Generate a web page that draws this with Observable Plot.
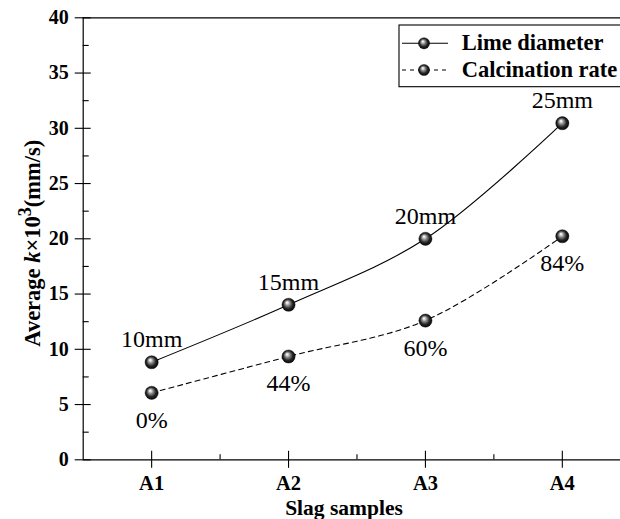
<!DOCTYPE html>
<html>
<head>
<meta charset="utf-8">
<script src="https://cdn.jsdelivr.net/npm/d3@7"></script>
<script src="https://cdn.jsdelivr.net/npm/@observablehq/plot@0.6"></script>
<style>
  html, body { margin: 0; padding: 0; background: #fff; }
  #chart { width: 620px; height: 519px; overflow: hidden; }
</style>
</head>
<body>
<div id="chart"></div>
<script>
// ---- data ----
const samples = ["A1", "A2", "A3", "A4"];
const limeValues = [8.83, 14.03, 20.0, 30.46];
const calcValues = [6.06, 9.35, 12.6, 20.23];
const limeLabels = ["10mm", "15mm", "20mm", "25mm"];
const calcLabels = ["0%", "44%", "60%", "84%"];
const seriesNames = ["Lime diameter", "Calcination rate"];
const yTicks = [0, 5, 10, 15, 20, 25, 30, 35, 40];
const yMinorTicks = [2.5, 7.5, 12.5, 17.5, 22.5, 27.5, 32.5, 37.5];
const xTicks = [1, 2, 3, 4];
const xMinorTicks = [1.5, 2.5, 3.5];

const rows = samples.map((s, i) => ({
  pos: i + 1,
  sample: s,
  lime: limeValues[i],
  calc: calcValues[i],
  limeLabel: limeLabels[i],
  calcLabel: calcLabels[i]
}));

const FONT = "'Liberation Serif', 'Times New Roman', Times, serif";
const SPHERE = "url(#sphere)";

const svg = Plot.plot({
  width: 620,
  height: 519,
  marginLeft: 82.7,
  marginRight: 0,
  marginTop: 17.3,
  marginBottom: 59.7,
  style: { fontFamily: FONT, background: "#fff", color: "#000", overflow: "visible" },
  x: { type: "linear", domain: [0.5, 4.425] },
  y: { domain: [0, 40] },
  marks: [
    // frame lines
    Plot.ruleY([0, 40], { stroke: "#000", strokeWidth: 1.2 }),
    Plot.ruleX([0.5], { stroke: "#000", strokeWidth: 1.2 }),
    // y ticks (crossing) and minor ticks (inside)
    Plot.axisY({ ticks: yTicks, tickSize: 16, dx: 8, fill: "none", label: null, strokeWidth: 1.1 }),
    Plot.axisY({ ticks: yMinorTicks, tickSize: 6, dx: 6, fill: "none", label: null, strokeWidth: 1.1 }),
    Plot.axisY({ ticks: yTicks, tickSize: 0, tickPadding: 14.4, fontSize: 20, fontWeight: "bold", label: null }),
    // x ticks
    Plot.axisX({ ticks: xTicks, tickSize: 17, dy: -8.5, fill: "none", label: null, strokeWidth: 1.1 }),
    Plot.axisX({ ticks: xMinorTicks, tickSize: 5, dy: -5, fill: "none", label: null, strokeWidth: 1.1 }),
    Plot.axisX({ ticks: xTicks, tickSize: 0, tickPadding: 15.5, tickFormat: d => samples[d - 1],
                 fontSize: 20.5, fontWeight: "bold", label: null }),
    // series lines
    Plot.line(rows, { x: "pos", y: "lime", curve: "catmull-rom", stroke: "#000", strokeWidth: 1.1 }),
    Plot.line(rows, { x: "pos", y: "calc", curve: "catmull-rom", stroke: "#000", strokeWidth: 1.1,
                      strokeDasharray: "5,4" }),
    // markers
    Plot.dot(rows, { x: "pos", y: "lime", r: 6.6, fill: SPHERE, stroke: "#000", strokeWidth: 0.4 }),
    Plot.dot(rows, { x: "pos", y: "calc", r: 6.6, fill: SPHERE, stroke: "#000", strokeWidth: 0.4 }),
    // point labels
    Plot.text(rows, { x: "pos", y: "lime", text: "limeLabel", lineAnchor: "bottom", dy: -15,
                      fontSize: 24, fill: "#000" }),
    Plot.text(rows, { x: "pos", y: "calc", text: "calcLabel", lineAnchor: "bottom", dy: 35,
                      fontSize: 24, fill: "#000" })
  ]
});

const s = d3.select(svg);
// sphere gradient
const defs = s.insert("defs", ":first-child");
const grad = defs.append("radialGradient").attr("id", "sphere")
  .attr("cx", "0.5").attr("cy", "0.5").attr("r", "0.55")
  .attr("fx", "0.38").attr("fy", "0.32");
[[0, "#ffffff"], [0.12, "#e6e6e6"], [0.35, "#8a8a8a"], [0.65, "#262626"], [1, "#000000"]]
  .forEach(([o, c]) => grad.append("stop").attr("offset", o).attr("stop-color", c));

// axis titles
s.append("text")
  .attr("x", 344).attr("y", 514.5)
  .attr("text-anchor", "middle")
  .attr("font-family", FONT).attr("font-size", 21.5).attr("font-weight", "bold")
  .text("Slag samples");

const yt = s.append("text")
  .attr("transform", "translate(40,346.7) rotate(-90)")
  .attr("text-anchor", "start")
  .attr("font-family", FONT).attr("font-size", 22.5).attr("font-weight", "bold");
yt.append("tspan").text("Average ");
yt.append("tspan").attr("font-style", "italic").text("k");
yt.append("tspan").text("×10");
yt.append("tspan").attr("font-size", 18).attr("dy", -9).text("3");
yt.append("tspan").attr("dy", 9).text("(mm/s)");

// legend
const lg = s.append("g").attr("font-family", FONT).attr("text-anchor", "start");
lg.append("rect").attr("x", 399).attr("y", 25).attr("width", 240).attr("height", 61.7)
  .attr("fill", "#fff").attr("stroke", "#000").attr("stroke-width", 1.1);
const legendRows = [
  { name: seriesNames[0], y: 43.3, dash: null },
  { name: seriesNames[1], y: 70, dash: "4,4" }
];
legendRows.forEach(r => {
  lg.append("line").attr("x1", 402).attr("x2", 448).attr("y1", r.y).attr("y2", r.y)
    .attr("stroke", "#000").attr("stroke-width", 1.1)
    .attr("stroke-dasharray", r.dash);
  lg.append("circle").attr("cx", 424).attr("cy", r.y).attr("r", 5.6)
    .attr("fill", SPHERE).attr("stroke", "#000").attr("stroke-width", 0.4);
  lg.append("text").attr("x", 461.7).attr("y", r.y + 6.5)
    .attr("text-anchor", "start")
    .attr("font-size", 22.5).attr("font-weight", "bold").text(r.name);
});

document.getElementById("chart").appendChild(svg);
</script>
</body>
</html>
